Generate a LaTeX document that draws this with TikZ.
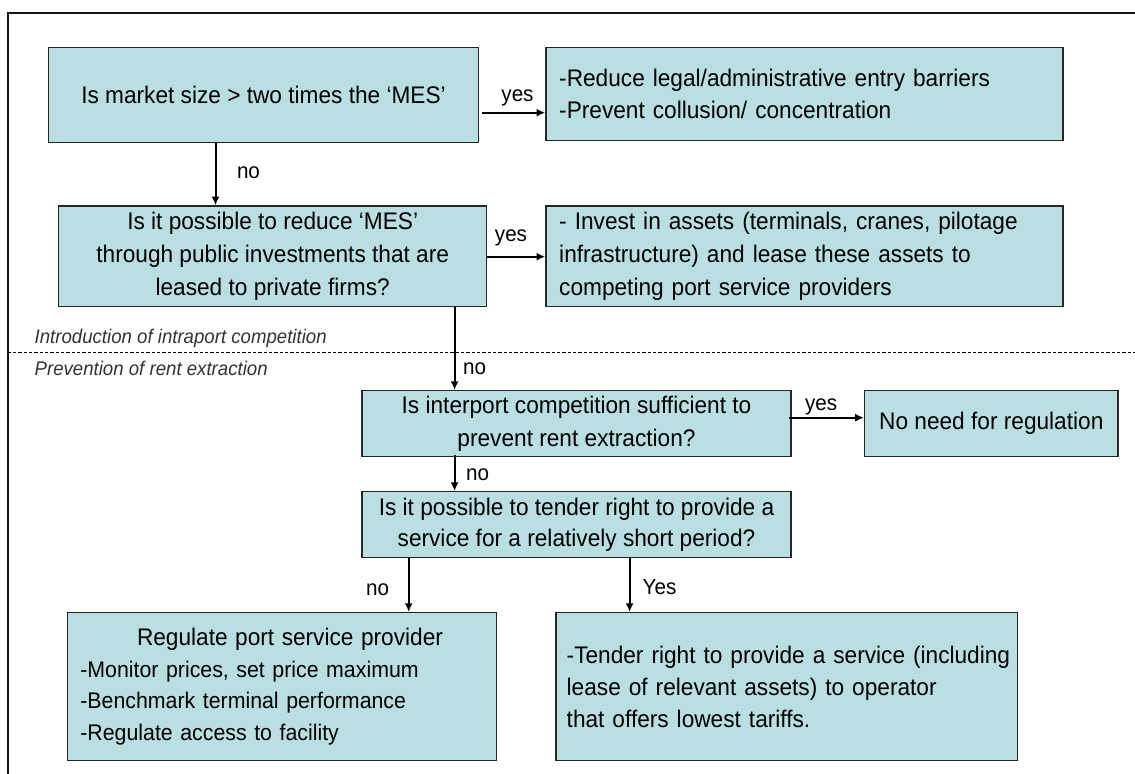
\documentclass[tikz,border=0pt]{standalone}
\usepackage{fontspec}
\setmainfont[FakeStretch=0.944]{Liberation Sans}
\usetikzlibrary{arrows.meta,calc}
\definecolor{boxfill}{RGB}{185,223,226}
\definecolor{frameline}{RGB}{20,20,20}
\tikzset{
  box/.style={draw=black!85, line width=1.1pt, fill=boxfill, inner sep=0pt,
    align=center, font=\fontsize{18pt}{24.75pt}\selectfont},
  leftbox/.style={box, align=left, inner xsep=10pt, inner ysep=0pt},
  arr/.style={line width=1.5pt, -{Latex[length=6.5pt,width=6pt]}},
  lbl/.style={inner sep=0pt, font=\fontsize{16.4pt}{19pt}\selectfont},
  phase/.style={inner sep=0pt, anchor=base west, text=black!80,
    font=\fontsize{14.8pt}{17pt}\selectfont\itshape},
  frame/.style={line width=1.5pt, draw=frameline},
  divider/.style={line width=1.2pt, dash pattern=on 2.5pt off 1.5pt}
}
\begin{document}
\begin{tikzpicture}[x=0.75pt,y=-0.75pt]
\useasboundingbox (0,0) rectangle (1135,774);
% frame
\draw[frame] (7.7,774) -- (7.7,12.7) -- (1135,12.7);
\draw[divider] (7.7,352.3) -- (1135,352.3);
\node[phase] (ph1) at (34.4,343.5) {Introduction of intraport competition};
\node[phase] (ph2) at (34.4,375.5) {Prevention of rent extraction};

% boxes
\node[box, minimum width=322.5pt, minimum height=71.25pt] (B1) at (263.5,95.2)
  {Is market size > two times the ‘MES’};
\node[leftbox, text width=367.75pt, minimum height=69.75pt,
  font=\fontsize{18pt}{23.8pt}\selectfont] (R1) at (804.4,94.2)
  {-Reduce legal/administrative entry barriers\\-Prevent collusion/ concentration};
\node[box, minimum width=321pt, minimum height=75.5pt] (Q2) at (272.7,256.3)
  {Is it possible to reduce ‘MES’\\through public investments that are\\leased to private firms?};
\node[leftbox, text width=367.75pt, minimum height=75.5pt,
  font=\fontsize{18pt}{25pt}\selectfont] (R2) at (804.4,256.3)
  {- Invest in assets (terminals, cranes, pilotage\\infrastructure) and lease these assets to\\competing port service providers};
\node[box, minimum width=321.75pt, minimum height=49.5pt,
  font=\fontsize{18pt}{24.3pt}\selectfont] (Q3) at (576.5,423.7)
  {Is interport competition sufficient to\\prevent rent extraction?};
\node[box, minimum width=190pt, minimum height=49.5pt] (NN) at (991.3,423.7)
  {No need for regulation};
\node[box, minimum width=321.75pt, minimum height=49.2pt,
  font=\fontsize{18pt}{23.25pt}\selectfont] (Q4) at (576.5,524.5)
  {Is it possible to tender right to provide a\\service for a relatively short period?};
\node[leftbox, inner xsep=9.75pt, text width=302.5pt, minimum height=111pt,
  font=\fontsize{16.95pt}{23.6pt}\selectfont] (BL) at (282,686.7)
  {\makebox[\linewidth]{\hspace{12pt}\fontsize{18pt}{23.6pt}\selectfont Regulate port service provider}\\
   -Monitor prices, set price maximum\\-Benchmark terminal performance\\-Regulate access to facility};
\node[leftbox, inner xsep=8pt, text width=330pt, minimum height=111pt,
  font=\fontsize{18pt}{24pt}\selectfont] (BR) at (786.7,686.7)
  {\mbox{-Tender right to provide a service (including}\\lease of relevant assets) to operator\\that offers lowest tariffs.};

% connectors
\coordinate (a1s) at ($(B1.east)+(2.5,17.5)$);
\draw[arr] (a1s) -- (a1s -| R1.west);
\node[lbl] (l1) at (517.5,97.5) {yes};

\coordinate (a2s) at ($(B1.south)+(-48,0)$);
\draw[arr] (a2s) -- (a2s |- Q2.north);
\node[lbl] (l2) at (248.5,173) {no};

\coordinate (a3s) at ($(Q2.east)+(0,0.4)$);
\draw[arr] (a3s) -- (a3s -| R2.west);
\node[lbl] (l3) at (511,238) {yes};

\coordinate (a4s) at ($(Q2.south)+(181.9,0)$);
\draw[arr] (a4s) -- (a4s |- Q3.north);
\node[lbl] (l4) at (474.6,369) {no};

\coordinate (a5s) at ($(Q3.east)+(-2.5,-6)$);
\draw[arr] (a5s) -- (a5s -| NN.west);
\node[lbl] (l5) at (821.2,406.5) {yes};

\coordinate (a6s) at ($(Q3.south)+(-121.9,-2)$);
\draw[arr] (a6s) -- (a6s |- Q4.north);
\node[lbl] (l6) at (477.5,475) {no};

\coordinate (a7s) at ($(Q4.south)+(-167.8,0)$);
\draw[arr] (a7s) -- (a7s |- BL.north);
\node[lbl] (l7) at (377.5,590) {no};

\coordinate (a8s) at ($(Q4.south)+(53.1,0)$);
\draw[arr] (a8s) -- (a8s |- BR.north);
\node[lbl] (l8) at (659.5,587.5) {Yes};
\end{tikzpicture}
\end{document}
